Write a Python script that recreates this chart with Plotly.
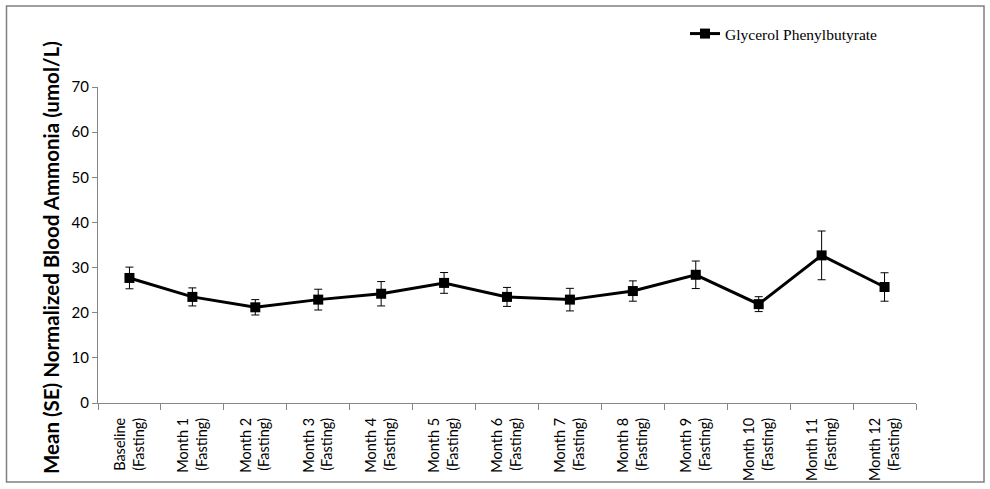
import plotly.graph_objects as go

categories = ["Baseline<br>(Fasting)", "Month 1<br>(Fasting)", "Month 2<br>(Fasting)",
              "Month 3<br>(Fasting)", "Month 4<br>(Fasting)", "Month 5<br>(Fasting)",
              "Month 6<br>(Fasting)", "Month 7<br>(Fasting)", "Month 8<br>(Fasting)",
              "Month 9<br>(Fasting)", "Month 10<br>(Fasting)", "Month 11<br>(Fasting)",
              "Month 12<br>(Fasting)"]
mean_ammonia = [27.7, 23.5, 21.2, 22.9, 24.2, 26.6, 23.5, 22.9, 24.8, 28.4, 21.9, 32.7, 25.7]
se_ammonia = [2.4, 2.0, 1.7, 2.3, 2.7, 2.3, 2.1, 2.5, 2.25, 3.05, 1.65, 5.4, 3.15]
series_name = "Glycerol Phenylbutyrate"
y_title = "Mean (SE) Normalized Blood Ammonia (umol/L)"

W, H = 990, 489
L, R, T, B = 98, 916, 87, 403
pw, ph = R - L, B - T

def px_x(x):
    return (x - L) / pw

def px_y(y):
    return (B - y) / ph

fig = go.Figure()
fig.add_trace(go.Scatter(
    x=categories, y=mean_ammonia, name=series_name, mode="lines+markers",
    line=dict(color="black", width=3),
    marker=dict(symbol="square", size=10, color="black"),
    error_y=dict(type="data", array=se_ammonia, visible=True, color="black",
                 thickness=1, width=4),
))

axis_grey = "#868686"
fig.update_layout(
    width=W, height=H,
    margin=dict(l=L, r=W - R, t=T, b=H - B, pad=0, autoexpand=False),
    paper_bgcolor="white", plot_bgcolor="white",
    font=dict(family="Lato, Liberation Sans, sans-serif", color="black", size=15),
    showlegend=True,
    legend=dict(x=px_x(685), y=px_y(17), xanchor="left", yanchor="top",
                bgcolor="rgba(0,0,0,0)",
                font=dict(family="Liberation Serif, Times New Roman, serif", size=15.5, color="black")),
    xaxis=dict(type="category", range=[-0.5, 12.5], tickson="boundaries",
               ticks="outside", ticklen=6, tickcolor=axis_grey, tickwidth=1,
               showline=True, linecolor=axis_grey, linewidth=1,
               showgrid=False, zeroline=False, tickangle=-90, automargin=False,
               ticklabelstandoff=8, tickfont=dict(size=14.5)),
    yaxis=dict(range=[0, 70], dtick=10, tick0=0, ticks="outside", ticklen=5,
               tickcolor=axis_grey, tickwidth=1, showline=True, linecolor=axis_grey,
               linewidth=1, showgrid=False, zeroline=False, automargin=False,
               tickfont=dict(size=15)),
    annotations=[dict(text="<b>" + y_title + "</b>", textangle=-90,
                      xref="paper", yref="paper", x=px_x(51), y=px_y(258),
                      xanchor="center", yanchor="middle", showarrow=False,
                      font=dict(size=20.5, color="black"))],
    shapes=[dict(type="rect", xref="paper", yref="paper",
                 x0=px_x(6.5), x1=px_x(984), y0=px_y(482), y1=px_y(6),
                 line=dict(color="#808080", width=1.5), fillcolor="rgba(0,0,0,0)",
                 layer="below")],
)

fig.write_html("out.html", config={"displayModeBar": False},
               post_script="document.body.style.margin='0';")
